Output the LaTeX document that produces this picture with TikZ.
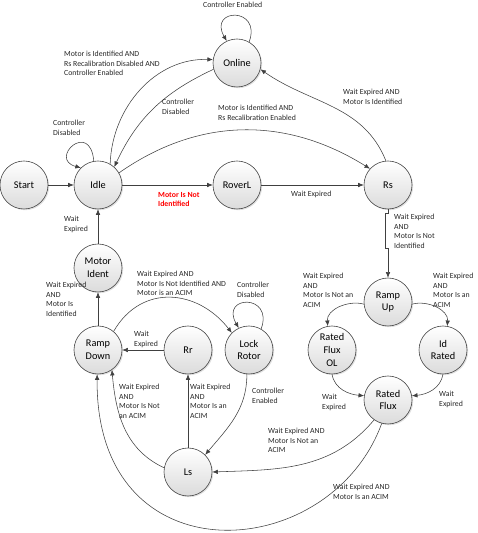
\documentclass[tikz,border=0pt]{standalone}
\usepackage{fontspec}
\setmainfont{Carlito}
\usetikzlibrary{arrows.meta,shadows}

\tikzset{
  state/.style={circle, draw=black!72, line width=0.6pt, minimum size=48pt, inner sep=0pt,
    top color=white, bottom color=black!14, align=center,
    drop shadow={shadow xshift=1.2pt, shadow yshift=-1.2pt, opacity=0.25},
    font=\fontsize{10.3}{12.8}\selectfont},
  arr/.style={draw=black!75, line width=0.55pt, -{Latex[length=5.5pt,width=4.5pt]}},
  lbl/.style={anchor=north west, inner sep=0pt, align=left, text=black!85,
    font=\fontsize{7.8}{9.6}\selectfont},
}

\begin{document}
\begin{tikzpicture}[x=1pt,y=1pt]
\useasboundingbox (0,0) rectangle (477,533);

\node[state] (start)  at (24,348)  {Start};
\node[state] (idle)   at (98,348)  {Idle};
\node[state] (online) at (237,470) {Online};
\node[state] (roverl) at (237,348) {RoverL};
\node[state] (rs)     at (388,348) {Rs};
\node[state] (ident)  at (98,265)  {Motor\\Ident};
\node[state] (rdown)  at (98,183)  {Ramp\\Down};
\node[state] (rr)     at (188,183) {Rr};
\node[state] (lock)   at (249,183) {Lock\\Rotor};
\node[state] (rup)    at (388,231) {Ramp\\Up};
\node[state] (rfol)   at (332,183) {Rated\\Flux\\OL};
\node[state] (idr)    at (443,183) {Id\\Rated};
\node[state] (rflux)  at (388,133) {Rated\\Flux};
\node[state] (ls)     at (188,61)  {Ls};

% top part
\draw[arr] (start) -- (idle);
\draw[arr] (idle.100) .. controls +(95:42) and +(165:34) .. (idle.135);
\draw[arr] (online.60) .. controls +(70:38) and +(120:38) .. (online.115);
\draw[arr] (idle.60) to[out=88,in=178] (online.172);
\draw[arr] (online.195) to[out=205,in=65] (idle.48);
\draw[arr] (idle.30) to[out=35,in=148] (rs.138);
\draw[arr] (rs.95) to[out=112,in=-35] (online.-15);
\draw[arr] (idle) -- (roverl);
\draw[arr] (roverl) -- (rs);
\draw[arr] (rs.south) -- ++(0,-4) -- ++(-2.5,0) -- ++(0,-35) -- ++(2.5,0) -- (rup.north);

% right part
\draw[arr] (rup.185) to[out=165,in=95] (rfol.100);
\draw[arr] (rup.-5) to[out=15,in=85] (idr.80);
\draw[arr] (rfol.-90) to[out=-80,in=175] (rflux.170);
\draw[arr] (idr.-90) to[out=-100,in=5] (rflux.10);
\draw[arr] (rflux.235) to[out=-130,in=2] (ls.0);
\draw[arr] (rflux.-105) .. controls +(-52,-142) and +(-2,-206) .. (rdown.-92);

% left part
\draw[arr] (ls.170) to[out=155,in=-85] (rdown.-55);
\draw[arr] (ls) -- (rr);
\draw[arr] (rr) -- (rdown);
\draw[arr] (rdown) -- (ident);
\draw[arr] (ident) -- (idle);
\draw[arr] (rdown.50) to[out=60,in=128,looseness=1.2] (lock.135);
\draw[arr] (lock.60) .. controls +(70:38) and +(120:38) .. (lock.115);
\draw[arr] (lock.-95) to[out=-90,in=50] (ls.45);

% labels
\node[lbl] (txtOnlineLoop) at (203,531) {Controller Enabled};
\node[lbl] (txtIdleOnline) at (64,482) {Motor is Identified AND\\Rs Recalibration Disabled AND\\Controller Enabled};
\node[lbl] (txtOnlineIdle) at (162,434) {Controller\\Disabled};
\node[lbl] (txtIdleRs) at (218,428) {Motor is Identified AND\\Rs Recalibration Enabled};
\node[lbl] (txtRsOnline) at (343,444) {Wait Expired AND\\Motor Is Identified};
\node[lbl] (txtIdleLoop) at (53,413) {Controller\\Disabled};
\node[lbl, text=red, font=\fontsize{7.8}{9.6}\selectfont\bfseries] (txtIdleRoverl) at (158,341) {Motor Is Not\\Identified};
\node[lbl] (txtRoverlRs) at (291,342) {Wait Expired};
\node[lbl] (txtRsRup) at (394,319) {Wait Expired\\AND\\Motor Is Not\\Identified};
\node[lbl] (txtIdentIdle) at (64,317) {Wait\\Expired};
\node[lbl] (txtRdownIdent) at (46,251) {Wait Expired\\AND\\Motor Is\\Identified};
\node[lbl] (txtRdownLock) at (137,262) {Wait Expired AND\\Motor Is Not Identified AND\\Motor is an ACIM};
\node[lbl] (txtLockLoop) at (237,251) {Controller\\Disabled};
\node[lbl] (txtRupRfol) at (303,260) {Wait Expired\\AND\\Motor Is Not an\\ACIM};
\node[lbl] (txtRupIdr) at (433,260) {Wait Expired\\AND\\Motor Is an\\ACIM};
\node[lbl] (txtRrRdown) at (134,202) {Wait\\Expired};
\node[lbl] (txtLsRdown) at (119,149) {Wait Expired\\AND\\Motor Is Not\\an ACIM};
\node[lbl] (txtLsRr) at (190,149) {Wait Expired\\AND\\Motor Is an\\ACIM};
\node[lbl] (txtLockLs) at (252,145) {Controller\\Enabled};
\node[lbl] (txtRfolRflux) at (322,139) {Wait\\Expired};
\node[lbl] (txtIdrRflux) at (439,142) {Wait\\Expired};
\node[lbl] (txtRfluxLs) at (268,105) {Wait Expired AND\\Motor Is Not an\\ACIM};
\node[lbl] (txtRfluxRdown) at (333,49) {Wait Expired AND\\Motor Is an ACIM};
\end{tikzpicture}
\end{document}
